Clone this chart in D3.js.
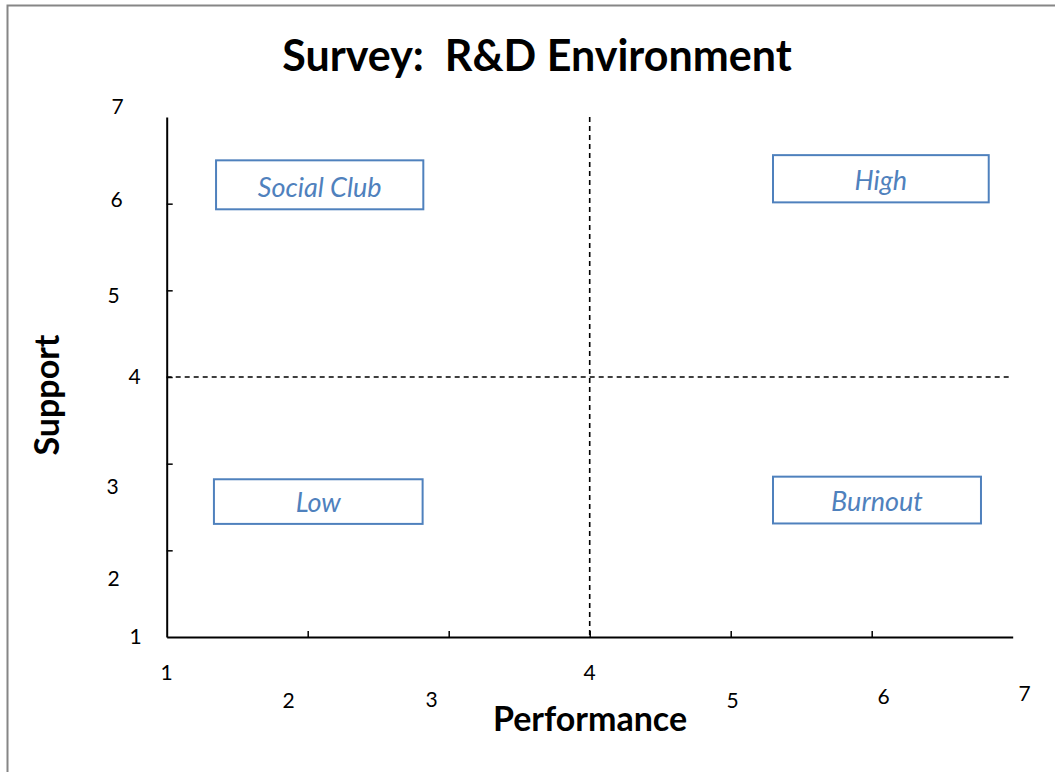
<!DOCTYPE html>
<html>
<head>
<meta charset="utf-8">
<script src="https://cdn.jsdelivr.net/npm/d3@7"></script>
<style>
  body { margin: 0; background: #fff; }
  svg text { font-family: Lato, "Open Sans", sans-serif; white-space: pre; }
</style>
</head>
<body>
<div id="chart"></div>
<script>
// data
var title = "Survey:  R&D Environment";
var xTitle = "Performance";
var yTitle = "Support";
var xTicks = [1, 2, 3, 4, 5, 6, 7];
var yTicks = [1, 2, 3, 4, 5, 6, 7];
var xDomain = [1, 7];
var yDomain = [1, 7];
var midX = 4, midY = 4;
// quadrant boxes, in data units
var quadNames = ["Social Club", "High", "Low", "Burnout"];
var quadX0 = [1.35, 5.30, 1.335, 5.30];
var quadX1 = [2.82, 6.83, 2.815, 6.775];
var quadY0 = [6.50, 6.56, 2.82, 2.85];
var quadY1 = [5.935, 6.015, 2.305, 2.31];

// layout
var width = 1055, height = 772;
var plot = {left: 166.7, right: 1012.7, top: 117, bottom: 637};
// the tick labels in the original sit at uneven spots; offsets from the axis
var xLabelDx = [0, -19, -17, 0, 2, 12, 12];
var xLabelDy = [36, 64, 63, 36, 64, 60, 57];
var yLabelDx = [-31, -53, -54, -32, -53, -50, -49];
var yLabelDy = [0, 28, 23, 0, 5, -4, -10];

var svg = d3.select("#chart").append("svg")
    .attr("width", width)
    .attr("height", height);

// outer frame (only top and left edges are in view)
svg.append("rect")
    .attr("x", 7.5).attr("y", 5.5)
    .attr("width", width + 20).attr("height", height + 20)
    .attr("fill", "none")
    .attr("stroke", "#868686")
    .attr("stroke-width", 2);

var x = d3.scaleLinear().domain(xDomain).range([plot.left, plot.right]);
var y = d3.scaleLinear().domain(yDomain).range([plot.bottom, plot.top]);

svg.append("text")
    .attr("x", 537).attr("y", 71)
    .attr("text-anchor", "middle")
    .style("font-size", "43px").style("font-weight", "bold")
    .text(title);

// axes: inside ticks, no labels (labels placed by hand below)
var xAxis = svg.append("g")
    .attr("transform", "translate(0," + plot.bottom + ")")
    .call(d3.axisTop(x).tickValues(xTicks).tickSize(6).tickSizeOuter(0).tickFormat(""));
var yAxis = svg.append("g")
    .attr("transform", "translate(" + plot.left + ",0)")
    .call(d3.axisRight(y).tickValues(yTicks).tickSize(6).tickSizeOuter(0).tickFormat(""));
svg.selectAll(".domain").attr("stroke", "#000").attr("stroke-width", 2);
svg.selectAll(".tick line").attr("stroke", "#000").attr("stroke-width", 1.5);
// drop the end ticks that sit on the corners
xAxis.selectAll(".tick").filter(function(d) { return d === xDomain[0] || d === xDomain[1]; }).remove();
yAxis.selectAll(".tick").filter(function(d) { return d === yDomain[0] || d === yDomain[1]; }).remove();

// tick labels
svg.selectAll(".xlab")
    .data(xTicks)
    .enter().append("text")
    .attr("class", "xlab")
    .attr("x", function(d, i) { return x(d) + xLabelDx[i]; })
    .attr("y", function(d, i) { return plot.bottom + xLabelDy[i]; })
    .attr("dy", "0.35em")
    .attr("text-anchor", "middle")
    .style("font-size", "21px")
    .text(function(d) { return d; });

svg.selectAll(".ylab")
    .data(yTicks)
    .enter().append("text")
    .attr("class", "ylab")
    .attr("x", function(d, i) { return plot.left + yLabelDx[i]; })
    .attr("y", function(d, i) { return y(d) + yLabelDy[i]; })
    .attr("dy", "0.35em")
    .attr("text-anchor", "middle")
    .style("font-size", "21px")
    .text(function(d) { return d; });

// dashed quadrant lines
svg.append("line")
    .attr("x1", x(midX)).attr("x2", x(midX))
    .attr("y1", y(yDomain[1])).attr("y2", y(yDomain[0]))
    .attr("stroke", "#000").attr("stroke-width", 1.6)
    .attr("stroke-dasharray", "5,4");
svg.append("line")
    .attr("x1", x(xDomain[0])).attr("x2", x(xDomain[1]) - 4)
    .attr("y1", y(midY)).attr("y2", y(midY))
    .attr("stroke", "#000").attr("stroke-width", 1.6)
    .attr("stroke-dasharray", "5,4");

// quadrant label boxes
var quads = svg.selectAll(".quad")
    .data(quadNames)
    .enter().append("g")
    .attr("class", "quad");
quads.append("rect")
    .attr("x", function(d, i) { return x(quadX0[i]); })
    .attr("y", function(d, i) { return y(quadY0[i]); })
    .attr("width", function(d, i) { return x(quadX1[i]) - x(quadX0[i]); })
    .attr("height", function(d, i) { return y(quadY1[i]) - y(quadY0[i]); })
    .attr("fill", "#fff")
    .attr("stroke", "#4f81bd")
    .attr("stroke-width", 2);
quads.append("text")
    .attr("x", function(d, i) { return (x(quadX0[i]) + x(quadX1[i])) / 2; })
    .attr("y", function(d, i) { return y(quadY1[i]) - 12; })
    .attr("text-anchor", "middle")
    .style("font-size", "27px")
    .style("font-style", "italic")
    .attr("fill", "#4f81bd")
    .text(function(d) { return d; });

// axis titles
svg.append("text")
    .attr("x", 590).attr("y", 731)
    .attr("text-anchor", "middle")
    .style("font-size", "34px").style("font-weight", "bold")
    .text(xTitle);
svg.append("text")
    .attr("transform", "translate(59,395) rotate(-90)")
    .attr("text-anchor", "middle")
    .style("font-size", "34px").style("font-weight", "bold")
    .text(yTitle);
</script>
</body>
</html>
